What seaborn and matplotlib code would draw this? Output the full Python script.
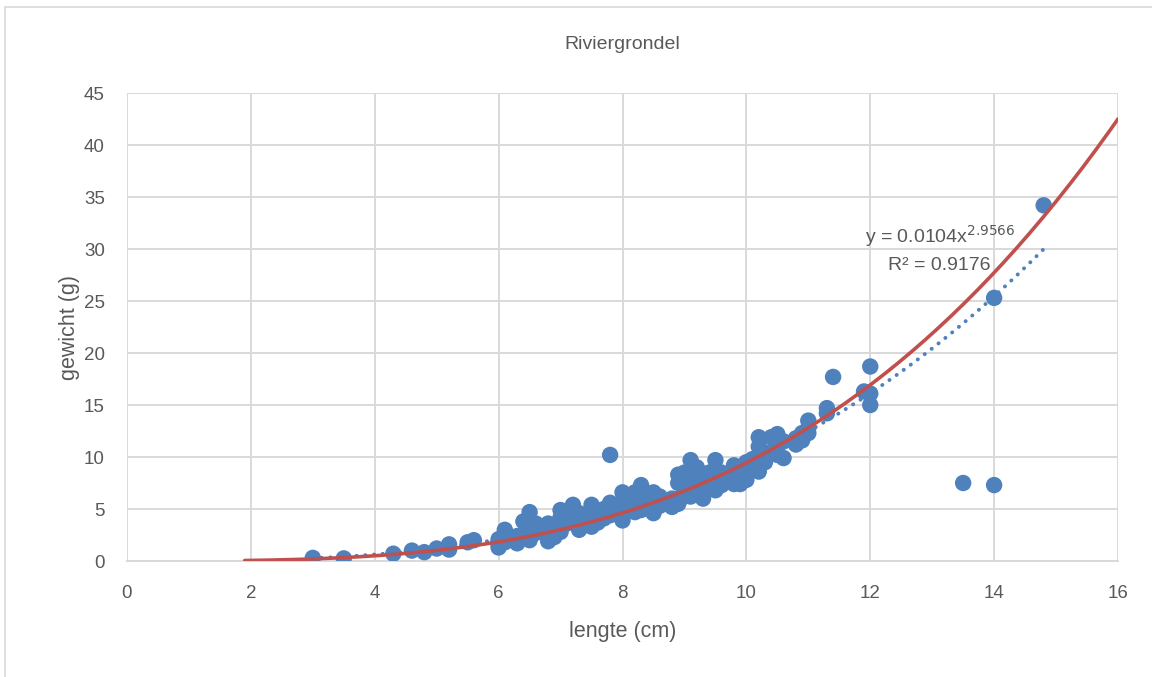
import numpy as np
import pandas as pd
import matplotlib
matplotlib.use("Agg")
import matplotlib.pyplot as plt
import seaborn as sns
from matplotlib.patches import Rectangle

# ---- data ----
lengte = [
    3.0, 3.5, 4.3, 4.6, 4.8, 5.0, 5.2, 5.2, 5.5, 5.6,
    6.0, 6.0, 6.0, 6.0, 6.1, 6.1, 6.2, 6.3, 6.3, 6.4, 6.4,
    6.5, 6.5, 6.5, 6.6, 6.6, 6.7, 6.8, 6.8, 6.8, 6.9, 6.9,
    7.0, 7.0, 7.0, 7.0, 7.1, 7.1, 7.2, 7.2, 7.3, 7.3, 7.4, 7.4,
    7.5, 7.5, 7.5, 7.6, 7.6, 7.7, 7.7, 7.8, 7.8, 7.8, 7.9,
    8.0, 8.0, 8.0, 8.0, 8.1, 8.1, 8.2, 8.2, 8.2, 8.3, 8.3, 8.3,
    8.4, 8.4, 8.5, 8.5, 8.5, 8.6, 8.6, 8.7, 8.8, 8.8,
    8.9, 8.9, 8.9, 8.9, 9.0, 9.0, 9.0, 9.0, 9.1, 9.1, 9.1, 9.1,
    9.2, 9.2, 9.2, 9.2, 9.3, 9.3, 9.3, 9.4, 9.4, 9.5, 9.5, 9.5,
    9.6, 9.6, 9.7, 9.8, 9.8, 9.8, 9.9, 9.9, 10.0, 10.0, 10.0, 10.1,
    10.2, 10.2, 10.2, 10.2, 10.2, 10.3, 10.3, 10.4, 10.4,
    10.5, 10.5, 10.5, 10.6, 10.6, 10.8, 10.8, 10.9, 10.9,
    11.0, 11.0, 11.0, 11.3, 11.3, 11.4, 11.9, 12.0, 12.0, 12.0,
    13.5, 14.0, 14.0, 14.8,
]
gewicht = [
    0.3, 0.25, 0.7, 1.0, 0.85, 1.2, 1.6, 1.1, 1.8, 2.0,
    1.3, 1.6, 1.9, 2.1, 3.0, 1.8, 2.2, 1.7, 2.4, 3.8, 2.5,
    4.7, 2.0, 3.2, 3.6, 2.7, 3.0, 3.6, 1.9, 2.6, 2.3, 3.1,
    4.9, 3.3, 2.8, 4.2, 3.6, 4.5, 5.4, 3.9, 3.0, 4.6, 4.0, 3.5,
    5.4, 3.3, 4.4, 4.8, 3.7, 4.1, 5.0, 10.2, 5.6, 4.4, 4.9,
    6.6, 3.9, 5.5, 4.5, 5.2, 6.0, 6.6, 4.7, 5.8, 7.3, 4.9, 6.1,
    5.5, 6.5, 6.6, 4.6, 5.8, 6.2, 5.3, 5.6, 5.2, 6.0,
    8.3, 7.5, 6.0, 5.5, 6.2, 7.8, 8.5, 6.8, 9.7, 7.0, 6.2, 8.0,
    8.8, 6.5, 7.5, 9.0, 7.2, 8.2, 6.0, 7.8, 8.5, 9.7, 6.8, 8.0,
    8.5, 7.3, 8.0, 9.2, 7.4, 8.3, 7.4, 8.8, 7.8, 9.5, 8.6, 9.8,
    11.9, 10.0, 8.6, 9.2, 11.0, 10.3, 9.5, 11.9, 10.5,
    12.2, 11.0, 10.2, 9.9, 11.5, 11.2, 11.8, 11.6, 12.3,
    13.5, 12.3, 12.8, 14.7, 14.2, 17.7, 16.3, 18.7, 16.1, 15.0,
    7.5, 25.3, 7.3, 34.2,
]

# trendlijn (macht) uit het label en de rode modelcurve
trend_a, trend_b = 0.0104, 2.9566
trend_r2 = 0.9176
model_a, model_b = 0.00596, 3.2

df = pd.DataFrame({"lengte": lengte, "gewicht": gewicht})

# ---- figuur ----
sns.set_theme(style="white")
plt.rcParams["font.family"] = ["Liberation Sans", "DejaVu Sans"]

blauw = "#4F81BD"
rood = "#C0504D"
grijs = "#595959"
rooster = "#D9D9D9"

fig = plt.figure(figsize=(11.52, 6.77), dpi=100)
ax = fig.add_axes([127 / 1152, 1 - 561 / 677, (1118 - 127) / 1152, (561 - 93) / 677])

# rand van het grafiekgebied
fig.patches.append(Rectangle((5 / 1152, -0.1), 1.2, 1 - 7 / 677 + 0.1,
                             transform=fig.transFigure, fill=False,
                             edgecolor=rooster, linewidth=1.2))

sns.scatterplot(data=df, x="lengte", y="gewicht", ax=ax, color=blauw,
                s=140, edgecolor="none", zorder=3, legend=False)

xt = np.linspace(min(lengte), max(lengte), 200)
ax.plot(xt, trend_a * xt ** trend_b, color=blauw, linewidth=2.8,
        linestyle=(0, (0.05, 2.2)), dash_capstyle="round", zorder=4)

xm = np.linspace(1.9, 16, 200)
ax.plot(xm, model_a * xm ** model_b, color=rood, linewidth=2.6, zorder=5)

ax.set_xlim(0, 16)
ax.set_ylim(0, 45)
ax.set_xticks(range(0, 17, 2))
ax.set_yticks(range(0, 46, 5))
ax.grid(True, color=rooster, linewidth=1.4)
ax.set_axisbelow(True)
for side in ["top", "right", "left"]:
    ax.spines[side].set_visible(False)
ax.spines["bottom"].set_color(rooster)
ax.spines["bottom"].set_linewidth(1.4)
ax.tick_params(axis="both", length=0, labelsize=13.5, labelcolor=grijs)
ax.tick_params(axis="x", pad=17)
ax.tick_params(axis="y", pad=16)

ax.set_xlabel("lengte (cm)", fontsize=15.5, color=grijs, va="center")
ax.set_ylabel("gewicht (g)", fontsize=15.5, color=grijs, va="center")
ax.xaxis.set_label_coords(0.5, (561 - 632) / 468)
ax.yaxis.set_label_coords((70 - 127) / 991, 0.5)
ax.set_title("Riviergrondel", fontsize=14, color=grijs, pad=32)

ax.text(11.92, 30.0, f"y = {trend_a}x$^{{{trend_b}}}$", fontsize=14,
        color=grijs, ha="left", va="bottom")
ax.text(12.28, 28.4, f"R² = {trend_r2}", fontsize=14, color=grijs,
        ha="left", va="center")

fig.savefig("out.png", dpi=100)
plt.close(fig)
